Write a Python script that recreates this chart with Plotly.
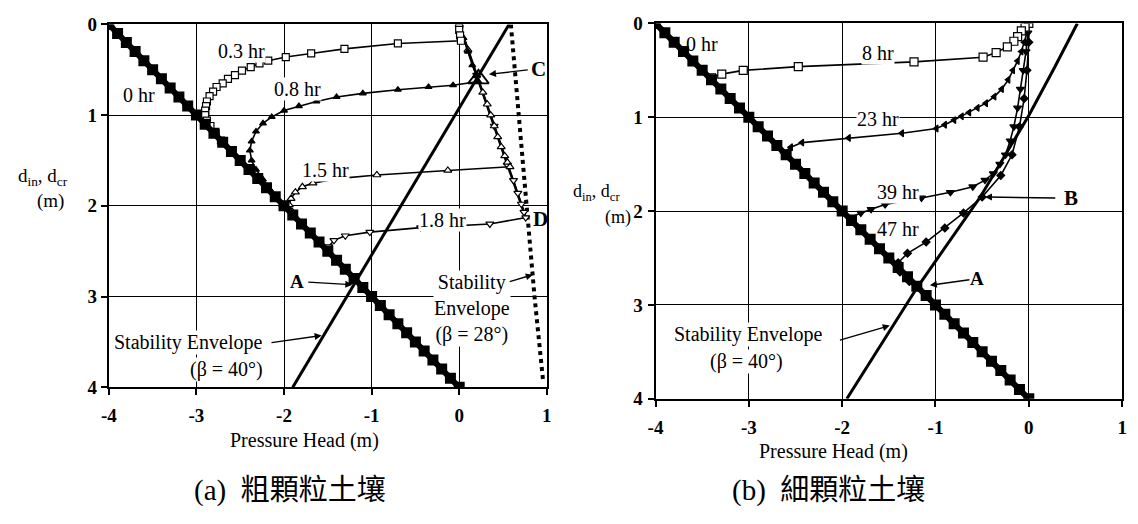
import plotly.graph_objects as go

# ---------------- panel (a): coarse-grained soil ----------------
a_h0 = [-4.0, -3.9, -3.8, -3.7, -3.6, -3.5, -3.4, -3.3, -3.2, -3.1, -3.0, -2.9, -2.8, -2.7,
        -2.6, -2.5, -2.4, -2.3, -2.2, -2.1, -2.0, -1.9, -1.8, -1.7, -1.6, -1.5, -1.4, -1.3,
        -1.2, -1.1, -1.0, -0.9, -0.8, -0.7, -0.6, -0.5, -0.4, -0.3, -0.2, -0.1, 0.0]
a_d0 = [0.0, 0.1, 0.2, 0.3, 0.4, 0.5, 0.6, 0.7, 0.8, 0.9, 1.0, 1.1, 1.2, 1.3, 1.4, 1.5, 1.6,
        1.7, 1.8, 1.9, 2.0, 2.1, 2.2, 2.3, 2.4, 2.5, 2.6, 2.7, 2.8, 2.9, 3.0, 3.1, 3.2, 3.3,
        3.4, 3.5, 3.6, 3.7, 3.8, 3.9, 4.0]

# wetted zone shared by the later profiles, surface down to point D
a_wet_h = [0.0, 0.76]
a_wet_d = [0.0, 2.13]

a_h03 = [0.0, 0.0, 0.01, 0.02, -0.70, -1.31, -1.69, -1.98, -2.18, -2.28, -2.38, -2.48, -2.56,
         -2.64, -2.70, -2.77, -2.81, -2.85, -2.88, -2.89, -2.90, -2.90, -2.88, -2.84, -2.78, -2.72]
a_d03 = [0.0, 0.06, 0.12, 0.18, 0.21, 0.27, 0.32, 0.36, 0.40, 0.43, 0.47, 0.51, 0.56,
         0.60, 0.65, 0.69, 0.74, 0.79, 0.85, 0.90, 0.95, 1.00, 1.06, 1.12, 1.20, 1.28]

a_h08 = [0.0, 0.05, 0.10, 0.15, 0.20, 0.22, -0.07, -0.35, -0.70, -1.10, -1.40, -1.63, -1.83,
         -2.00, -2.14, -2.24, -2.32, -2.37, -2.39, -2.37, -2.32, -2.24, -2.16, -2.08, -2.02]
a_d08 = [0.0, 0.15, 0.30, 0.45, 0.57, 0.63, 0.67, 0.69, 0.72, 0.76, 0.80, 0.85, 0.90,
         0.95, 1.02, 1.09, 1.18, 1.29, 1.39, 1.50, 1.60, 1.71, 1.82, 1.92, 1.99]

a_h15 = [0.0, 0.10, 0.20, 0.27, 0.32, 0.36, 0.40, 0.44, 0.48, 0.52, 0.55, 0.58, -0.13, -0.94,
         -1.39, -1.67, -1.79, -1.87, -1.92, -1.94, -1.91, -1.87]
a_d15 = [0.0, 0.28, 0.56, 0.75, 0.88, 1.00, 1.12, 1.24, 1.35, 1.45, 1.52, 1.57, 1.61, 1.66,
         1.70, 1.75, 1.79, 1.85, 1.92, 1.99, 2.06, 2.13]

a_h18 = [0.0, 0.20, 0.40, 0.55, 0.62, 0.67, 0.71, 0.74, 0.76, 0.35, -0.44, -1.02, -1.30,
         -1.43, -1.49, -1.50]
a_d18 = [0.0, 0.56, 1.12, 1.55, 1.72, 1.86, 1.98, 2.07, 2.13, 2.20, 2.24, 2.29, 2.33,
         2.38, 2.45, 2.50]

a_env40_h = [0.57, -1.90]
a_env40_d = [0.0, 4.0]
a_env28_h = [0.59, 0.68, 0.77, 0.86, 0.96]
a_env28_d = [0.0, 1.0, 2.1, 3.0, 3.95]
a_c_point = ([0.22], [0.60])

# ---------------- panel (b): fine-grained soil ----------------
b_h0 = a_h0
b_d0 = a_d0

b_h8 = [0.0, -0.04, -0.08, -0.12, -0.16, -0.23, -0.35, -0.49, -1.23, -2.47, -3.06, -3.29, -3.40]
b_d8 = [0.0, 0.04, 0.08, 0.14, 0.19, 0.25, 0.31, 0.36, 0.41, 0.46, 0.50, 0.54, 0.58]

b_h23 = [0.0, -0.02, -0.05, -0.08, -0.12, -0.17, -0.22, -0.29, -0.37, -0.46, -0.55, -0.64,
         -0.72, -0.80, -0.90, -0.99, -1.36, -1.93, -2.43, -2.55, -2.63]
b_d23 = [0.0, 0.10, 0.20, 0.30, 0.40, 0.50, 0.60, 0.70, 0.78, 0.85, 0.90, 0.95,
         0.99, 1.03, 1.08, 1.12, 1.17, 1.22, 1.27, 1.32, 1.38]

b_h39 = [0.0, -0.01, -0.03, -0.06, -0.09, -0.12, -0.16, -0.20, -0.25, -0.31, -0.38, -0.47,
         -0.60, -0.84, -1.15, -1.54, -1.69, -1.80, -1.90]
b_d39 = [0.0, 0.10, 0.30, 0.50, 0.70, 0.90, 1.10, 1.25, 1.40, 1.50, 1.60, 1.67,
         1.74, 1.80, 1.86, 1.93, 1.98, 2.02, 2.06]

b_h47 = [0.0, 0.0, -0.02, -0.05, -0.10, -0.18, -0.30, -0.50, -0.70, -0.90, -1.10, -1.30,
         -1.40, -1.38, -1.28]
b_d47 = [0.0, 0.20, 0.50, 0.80, 1.10, 1.40, 1.62, 1.85, 2.02, 2.18, 2.33, 2.45,
         2.55, 2.65, 2.75]

b_env40_h = [0.52, 0.27, 0.0, -0.52, -1.20, -1.95]
b_env40_d = [0.0, 0.48, 0.98, 1.85, 2.82, 4.0]

x_ticks = [-4, -3, -2, -1, 0, 1]
x_tick_text = ["-4", "-3", "-2", "-1", "0", "1"]
y_ticks = [0, 1, 2, 3, 4]

SERIF = "Liberation Serif, Times New Roman, serif"
CAP = "Liberation Serif, Noto Sans CJK TC, serif"
BLACK = "black"

fig = go.Figure()


def add_initial(h, d, xa, ya):
    fig.add_trace(go.Scatter(
        x=h, y=d, xaxis=xa, yaxis=ya, mode="lines+markers",
        line=dict(color=BLACK, width=6),
        marker=dict(symbol="square", size=11, color=BLACK),
        showlegend=False, hoverinfo="skip"))


def add_profile(h, d, xa, ya, symbol, size=7, hollow=False):
    fig.add_trace(go.Scatter(
        x=h, y=d, xaxis=xa, yaxis=ya, mode="lines+markers",
        line=dict(color=BLACK, width=1.6),
        marker=dict(symbol=symbol, size=size, color="white" if hollow else BLACK,
                    line=dict(color=BLACK, width=1.2)),
        showlegend=False, hoverinfo="skip"))


def add_line(h, d, xa, ya, dash="solid", width=3):
    fig.add_trace(go.Scatter(
        x=h, y=d, xaxis=xa, yaxis=ya, mode="lines",
        line=dict(color=BLACK, width=width, dash=dash),
        showlegend=False, hoverinfo="skip"))


# panel (a)
add_line(a_env40_h, a_env40_d, "x", "y", width=3)
add_line(a_env28_h, a_env28_d, "x", "y", dash="dot", width=4)
add_line(a_wet_h, a_wet_d, "x", "y", width=2.6)
add_profile(a_h18, a_d18, "x", "y", "triangle-down", 7, hollow=True)
add_profile(a_h15, a_d15, "x", "y", "triangle-up", 7, hollow=True)
add_profile(a_h08, a_d08, "x", "y", "triangle-up", 6)
add_profile(a_h03, a_d03, "x", "y", "square", 7, hollow=True)
add_initial(a_h0, a_d0, "x", "y")
fig.add_trace(go.Scatter(
    x=a_c_point[0], y=a_c_point[1], xaxis="x", yaxis="y", mode="markers",
    marker=dict(symbol="triangle-up-open", size=18, color=BLACK, line=dict(width=1.8)),
    showlegend=False, hoverinfo="skip"))

# panel (b)
add_line(b_env40_h, b_env40_d, "x2", "y2", width=3)
add_profile(b_h47, b_d47, "x2", "y2", "diamond", 6)
add_profile(b_h39, b_d39, "x2", "y2", "triangle-down", 7)
add_profile(b_h23, b_d23, "x2", "y2", "triangle-left", 6)
add_profile(b_h8, b_d8, "x2", "y2", "square", 8, hollow=True)
add_initial(b_h0, b_d0, "x2", "y2")

axis_common = dict(
    showline=True, linecolor=BLACK, linewidth=2, mirror=True,
    showgrid=True, gridcolor=BLACK, gridwidth=1.4, zeroline=False,
    ticks="outside", tickcolor=BLACK, ticklen=6, tickwidth=1.6,
    tickfont=dict(family=SERIF, size=19, color=BLACK, weight="bold"),
)

fig.update_layout(
    width=1138, height=524, autosize=False,
    margin=dict(l=0, r=0, t=0, b=0),
    paper_bgcolor="white", plot_bgcolor="white",
    xaxis=dict(domain=[102 / 1138, 545 / 1138], range=[-4, 1], tickvals=x_ticks,
               ticktext=x_tick_text, anchor="y", ticklabelstandoff=4, **axis_common),
    yaxis=dict(domain=[1 - 393 / 524, 1 - 15 / 524], range=[4, 0], tickvals=y_ticks,
               anchor="x", **axis_common),
    xaxis2=dict(domain=[655 / 1138, 1127 / 1138], range=[-4, 1], tickvals=x_ticks,
                ticktext=x_tick_text, anchor="y2", ticklabelstandoff=4, **axis_common),
    yaxis2=dict(domain=[1 - 405 / 524, 1 - 14 / 524], range=[4, 0], tickvals=y_ticks,
                anchor="x2", ticklabelstandoff=1, **axis_common),
)

ann = []


def label(text, x, y, xr, yr, size=20, bold=False, bg="white"):
    ann.append(dict(text=f"<b>{text}</b>" if bold else text, x=x, y=y, xref=xr, yref=yr,
                    showarrow=False, xanchor="center", yanchor="middle",
                    font=dict(family=SERIF, size=size, color=BLACK), bgcolor=bg, borderpad=0))


def arrow(x, y, ax, ay, xr, yr):
    ann.append(dict(text="", x=x, y=y, ax=ax, ay=ay, xref=xr, yref=yr, axref=xr, ayref=yr,
                    showarrow=True, arrowhead=2, arrowsize=1, arrowwidth=1.4,
                    arrowcolor=BLACK))


CLEAR = "rgba(0,0,0,0)"

# panel (a) labels
label("0.3 hr", -2.48, 0.29, "x", "y")
label("0 hr", -3.66, 0.78, "x", "y", bg=CLEAR)
label("0.8 hr", -1.85, 0.71, "x", "y")
label("1.5 hr", -1.53, 1.60, "x", "y")
label("1.8 hr", -0.19, 2.16, "x", "y")
label("C", 0.90, 0.49, "x", "y", size=21, bold=True)
arrow(0.34, 0.55, 0.80, 0.50, "x", "y")
label("D", 0.93, 2.15, "x", "y", size=21, bold=True, bg=CLEAR)
label("A", -1.85, 2.83, "x", "y", size=19, bold=True, bg=CLEAR)
arrow(-1.22, 2.87, -1.74, 2.84, "x", "y")
label("Stability Envelope", -3.1, 3.51, "x", "y")
label("(β = 40°)", -2.66, 3.80, "x", "y")
arrow(-1.57, 3.43, -2.16, 3.51, "x", "y")
label("Stability<br>Envelope<br>(β = 28°)", 0.15, 3.13, "x", "y")
arrow(0.84, 2.76, 0.56, 2.84, "x", "y")

# panel (b) labels
label("0 hr", -3.5, 0.22, "x2", "y2", bg=CLEAR)
label("8 hr", -1.62, 0.31, "x2", "y2")
label("23 hr", -1.62, 1.02, "x2", "y2")
label("39 hr", -1.40, 1.80, "x2", "y2")
label("47 hr", -1.40, 2.19, "x2", "y2")
label("B", 0.45, 1.86, "x2", "y2", size=21, bold=True, bg=CLEAR)
arrow(-0.47, 1.85, 0.30, 1.86, "x2", "y2")
label("A", -0.55, 2.72, "x2", "y2", size=19, bold=True, bg=CLEAR)
arrow(-1.06, 2.79, -0.62, 2.73, "x2", "y2")
label("Stability Envelope", -3.01, 3.31, "x2", "y2")
label("(β = 40°)", -3.03, 3.60, "x2", "y2")
arrow(-1.49, 3.22, -2.04, 3.38, "x2", "y2")

# axis titles
label("Pressure Head (m)", 300 / 1138, 1 - 448 / 524, "paper", "paper", bg=CLEAR)
label("Pressure Head (m)", 835 / 1138, 1 - 460 / 524, "paper", "paper", bg=CLEAR)
label("d<sub>in</sub>, d<sub>cr</sub>", 35 / 1138, 1 - 174 / 524, "paper", "paper", size=19,
      bg=CLEAR)
label("(m)", 43 / 1138, 1 - 199 / 524, "paper", "paper", size=19, bg=CLEAR)
label("d<sub>in</sub>, d<sub>cr</sub>", 595 / 1138, 1 - 190 / 524, "paper", "paper", size=18,
      bg=CLEAR)
label("(m)", 617 / 1138, 1 - 216 / 524, "paper", "paper", size=18, bg=CLEAR)

# captions
for txt, cx in (("(a)  粗顆粒土壤", 285), ("(b)  細顆粒土壤", 830)):
    ann.append(dict(text=txt, x=cx / 1138, y=1 - 501 / 524, xref="paper", yref="paper",
                    showarrow=False, xanchor="center", yanchor="middle",
                    font=dict(family=CAP, size=29, color=BLACK)))

fig.update_layout(annotations=ann)
fig.write_html("out.html")
